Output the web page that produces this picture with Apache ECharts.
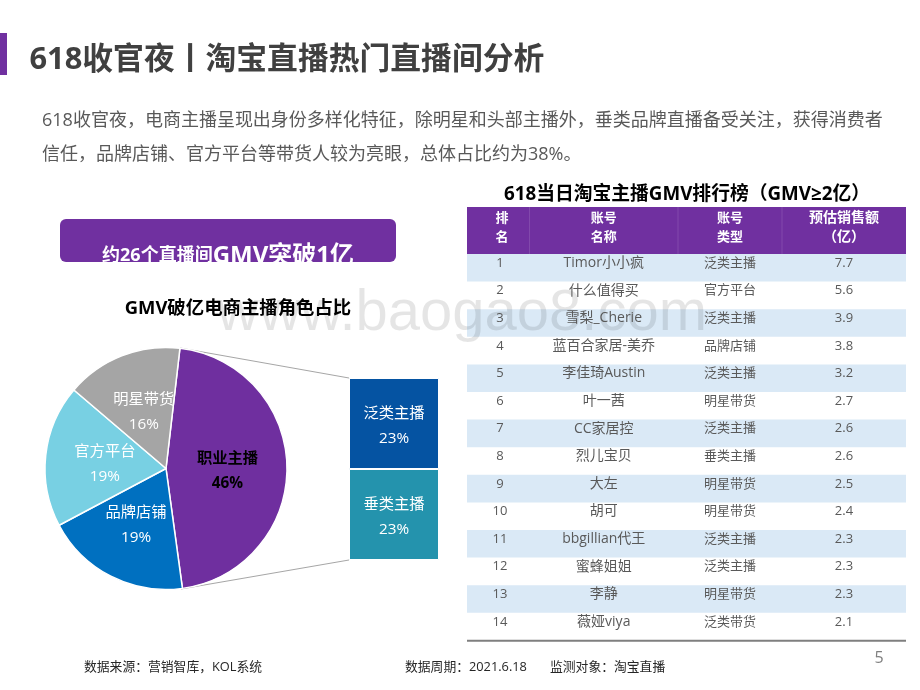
<!DOCTYPE html>
<html><head><meta charset="utf-8">
<style>html,body{margin:0;padding:0;background:#fff}#c{width:920px;height:690px}</style>
<script src="https://cdn.jsdelivr.net/npm/echarts@6/dist/echarts.min.js"></script>
</head><body><div id="c"></div>
<script>
const pieNames = ['职业主播','品牌店铺','官方平台','明星带货'];
const pieValues = [46,19.4,19,15.6];
const stackNames = ['泛类主播','垂类主播'];
const stackValues = [23,23];
const ranks = ['1','2','3','4','5','6','7','8','9','10','11','12','13','14'];
const accounts = ['Timor小小疯','什么值得买','雪梨_Cherie','蓝百合家居-美乔','李佳琦Austin','叶一茜','CC家居控','烈儿宝贝','大左','胡可','bbgillian代王','蜜蜂姐姐','李静','薇娅viya'];
const types = ['泛类主播','官方平台','泛类主播','品牌店铺','泛类主播','明星带货','泛类主播','垂类主播','明星带货','明星带货','泛类主播','泛类主播','明星带货','泛类带货'];
const sales = ['7.7','5.6','3.9','3.8','3.2','2.7','2.6','2.6','2.5','2.4','2.3','2.3','2.3','2.1'];
const headers = ['排\n名','账号\n名称','账号\n类型','预估销售额\n（亿）'];

const FF = '"Open Sans","Noto Sans CJK SC",sans-serif';
const PURPLE = '#7030a0';
const colX = [467,529.5,678,782,906];
const rowTop = 254, rowH = 27.6;
const g = [];
const txt = (t,x,y,size,fill,opt={}) => g.push({type:'text',x,y,silent:true,style:{text:t,fill,
  font:`${opt.bold?'bold ':''}${size}px ${FF}`,textAlign:opt.align||'left',textVerticalAlign:'middle',lineHeight:opt.lh}});
const rect = (x,y,w,h,fill,r) => g.push({type:'rect',silent:true,shape:{x,y,width:w,height:h,r:r||0},style:{fill}});

// slide chrome
rect(0,33,7,42,PURPLE);
txt('618收官夜丨淘宝直播热门直播间分析',29.5,60,30.8,'#404040',{bold:true});
txt('618收官夜，电商主播呈现出身份多样化特征，除明星和头部主播外，垂类品牌直播备受关注，获得消费者',42,121,18,'#595959');
txt('信任，品牌店铺、官方平台等带货人较为亮眼，总体占比约为38%。',42,155,18,'#595959');

// table body backgrounds
ranks.forEach((_,i)=>{ if(i%2===0) rect(colX[0],rowTop+i*rowH,colX[4]-colX[0],rowH,'#dae9f6'); });

// watermark
g.push({type:'text',x:217,y:343,silent:true,style:{text:'www.baogao8.com',fill:'rgba(0,0,0,0.10)',
  font:'58px "Liberation Sans",sans-serif',textVerticalAlign:'bottom'}});

// callout box with clipped text
rect(60,219,336,43,PURPLE,6);
g.push({type:'text',x:228,y:256,silent:true,style:{textAlign:'center',textVerticalAlign:'middle',
  text:'{a|约26个直播间}{b|GMV突破1亿}',
  rich:{a:{fontSize:18,fontWeight:'bold',fill:'#fff',fontFamily:FF},b:{fontSize:24,fontWeight:'bold',fill:'#fff',fontFamily:FF}}}});
rect(50,262,360,24,'#fff');

txt('GMV破亿电商主播角色占比',238,309,18.4,'#000',{bold:true,align:'center'});
txt('618当日淘宝主播GMV排行榜（GMV≥2亿）',687,195,18.8,'#000',{bold:true,align:'center'});

// table header
rect(colX[0],207,colX[4]-colX[0],47,PURPLE);
headers.forEach((h,i)=>{
  const cx=(colX[i]+colX[i+1])/2;
  if(i) g.push({type:'line',silent:true,shape:{x1:colX[i],y1:207,x2:colX[i],y2:254},style:{stroke:'#8a55b2',lineWidth:0.7}});
  txt(h,i===0?502:cx,227.5,i===3?14:13,'#fff',{bold:true,align:'center',lh:19});
});
// table rows
ranks.forEach((r,i)=>{
  const y=rowTop+i*rowH+9;
  [r,accounts[i],types[i],sales[i]].forEach((t,k)=>txt(t,k===0?500:(colX[k]+colX[k+1])/2,y,k===1?14:13,'#595959',{align:'center'}));
});
g.push({type:'line',silent:true,shape:{x1:colX[0],y1:640.7,x2:colX[4],y2:640.7},style:{stroke:'#7f7f7f',lineWidth:2}});

// connector lines
g.push({type:'line',silent:true,shape:{x1:180,y1:348,x2:349,y2:378},style:{stroke:'#a6a6a6',lineWidth:1}});
g.push({type:'line',silent:true,shape:{x1:181,y1:589,x2:349,y2:560},style:{stroke:'#a6a6a6',lineWidth:1}});

// footer
txt('数据来源：营销智库，KOL系统',84,667,12.8,'#262626');
txt('数据周期：2021.6.18',405,667,12.8,'#262626');
txt('监测对象：淘宝直播',550,667,12.8,'#262626');
txt('5',879,658,16,'#7f7f7f',{align:'center'});

const pieColors = ['#6f2f9f','#0070c0','#78d0e3','#a5a5a5'];
const pieLabelShift = [[-2,3],[-1,0],[2,3],[1,3]];
const stackColors = ['#0553a2','#2493ad'];
const chart = echarts.init(document.getElementById('c'),null,{renderer:'canvas'});
chart.setOption({
  animation:false,
  backgroundColor:'#fff',
  graphic:{elements:g},
  grid:{left:349,top:378,width:90,height:182,containLabel:false},
  xAxis:{type:'category',data:['职业主播'],show:false},
  yAxis:{type:'value',min:0,max:46,inverse:true,show:false},
  series:[
    {type:'pie',center:[166,468.5],radius:[0,121],startAngle:83.4,clockwise:true,
     avoidLabelOverlap:false,labelLine:{show:false},silent:true,z:3,
     itemStyle:{borderColor:'#fff',borderWidth:1.5},
     data:pieNames.map((n,i)=>({name:n,value:pieValues[i],itemStyle:{color:pieColors[i]},
       label:{color:i===0?'#000':'#fff',fontWeight:i===0?'bold':'normal',offset:pieLabelShift[i]}})),
     label:{position:'inside',formatter:p=>p.name+'\n'+Math.round(p.value)+'%',fontSize:15.3,lineHeight:25,fontFamily:FF}},
    ...stackNames.map((n,i)=>({type:'bar',name:n,stack:'s',barWidth:'100%',silent:true,z:3,
      data:[stackValues[i]],itemStyle:{color:stackColors[i],borderColor:'#fff',borderWidth:1},
      label:{show:true,position:'inside',offset:[0,3],formatter:n+'\n'+stackValues[i]+'%',color:'#fff',fontSize:15.3,lineHeight:25,fontFamily:FF}}))
  ]
});
</script></body></html>
